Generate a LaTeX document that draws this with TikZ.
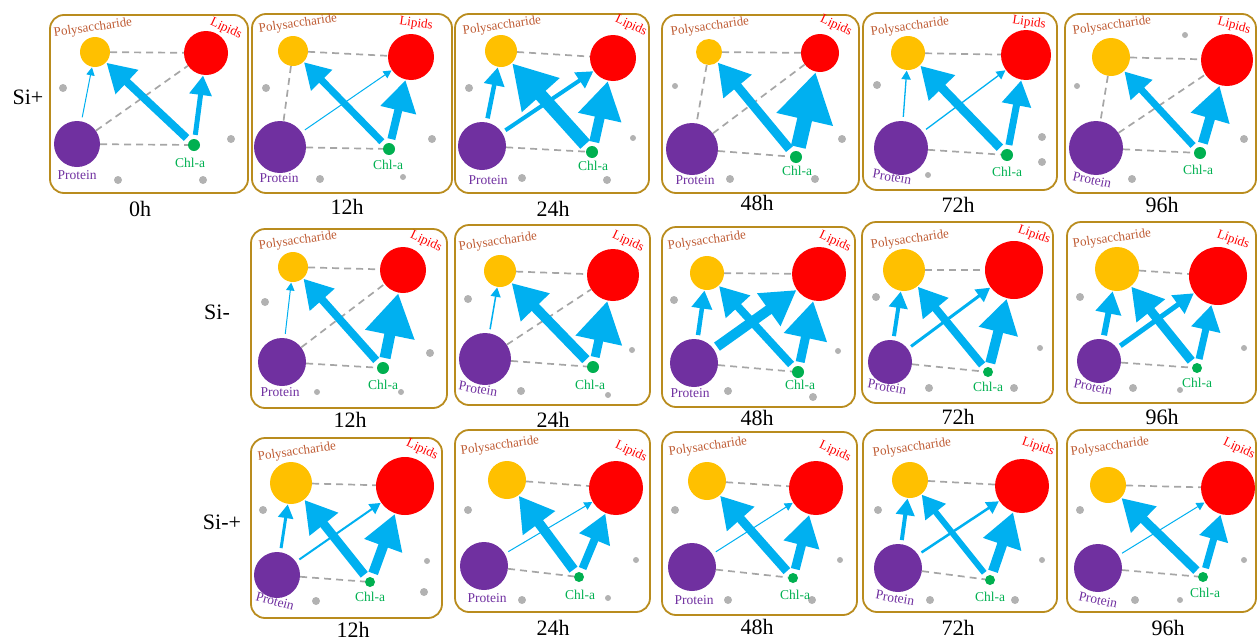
\documentclass[tikz,border=0pt]{standalone}
\usepackage{fontspec}
\setmainfont{Liberation Serif}
\usetikzlibrary{arrows.meta}
\definecolor{boxc}{RGB}{185,140,30}
\definecolor{polyc}{RGB}{255,192,0}
\definecolor{lipc}{RGB}{255,0,0}
\definecolor{protc}{RGB}{112,48,160}
\definecolor{chlc}{RGB}{0,176,80}
\definecolor{flowc}{RGB}{0,176,240}
\definecolor{dashc}{RGB}{166,166,166}
\definecolor{dotc}{RGB}{178,178,178}
\definecolor{polytc}{RGB}{190,90,50}
\tikzset{
  pbox/.style={draw=boxc, line width=1.8pt, rounded corners=14pt},
  po/.style={circle, fill=polyc, inner sep=0pt},
  li/.style={circle, fill=lipc, inner sep=0pt},
  pr/.style={circle, fill=protc, inner sep=0pt},
  ch/.style={circle, fill=chlc, inner sep=0pt},
  dsh/.style={draw=dashc, line width=1.7pt, dash pattern=on 7pt off 5pt},
  tpo/.style={text=polytc, font=\fontsize{13}{13}\selectfont, inner sep=0pt},
  tli/.style={text=lipc, font=\fontsize{13}{13}\selectfont, inner sep=0pt},
  tpr/.style={text=protc, font=\fontsize{13.5}{13.5}\selectfont, inner sep=0pt},
  tch/.style={text=chlc, font=\fontsize{13.5}{13.5}\selectfont, inner sep=0pt},
  tlab/.style={font=\fontsize{22}{22}\selectfont, inner sep=0pt},
}
\newcommand\cn[5]{\node[#2, minimum size={2*#5*1pt}] (#1) at (#3,#4) {};}
\newcommand\bx[5]{\draw[pbox] (#2,#3) rectangle (#4,#5);}
\newcommand\lb[6]{\node[#2, rotate=#6] (#1) at (#3,#4) {#5};}
\newcommand\dt[3]{\fill[dotc] (#1,#2) circle (#3pt);}
\newcommand\ds[2]{\draw[dsh] (#1) -- (#2);}
\newcommand\fl[4][1]{%
  \pgfmathsetmacro\flHL{(2.9*#4+5)*#1}%
  \pgfmathsetmacro\flHW{(3.3*#4+5)*#1}%
  \draw[flowc, line width=#4pt, -{Triangle[length=\flHL pt, width=\flHW pt]}, shorten <=4pt, shorten >=0.5pt] (#2) -- (#3);}
% panel: id, po(x,y,r), li, pr, ch
\newcommand\nds[1]{\def\pid{#1}\ndsA}
\newcommand\ndsA[6]{\cn{\pid-po}{po}{#1}{#2}{#3}\cn{\pid-li}{li}{#4}{#5}{#6}\ndsB}
\newcommand\ndsB[6]{\cn{\pid-pr}{pr}{#1}{#2}{#3}\cn{\pid-ch}{ch}{#4}{#5}{#6}}
% labels: id, tpo x y rot, tli x y rot, tpr x y rot, tch x y
\newcommand\lbs[1]{\def\lid{#1}\lbsA}
\newcommand\lbsA[6]{\lb{\lid-tpo}{tpo}{#1}{#2}{Polysaccharide}{#3}\lb{\lid-tli}{tli}{#4}{#5}{Lipids}{#6}\lbsB}
\newcommand\lbsB[5]{\lb{\lid-tpr}{tpr}{#1}{#2}{Protein}{#3}\lb{\lid-tch}{tch}{#4}{#5}{Chl-a}{0}}
\begin{document}
\begin{tikzpicture}[x=1pt,y=-1pt]
\useasboundingbox (0,0) rectangle (1258,640);
% row labels
\node[tlab] (rowA) at (28,97) {Si+};
\node[tlab] (rowB) at (217,312) {Si-};
\node[tlab] (rowC) at (222,522) {Si-+};

% ---------- Si+ 0h ----------
\bx{a-box}{50}{15}{248}{193}
\nds{a}{95}{52}{15}{206}{53}{22}{77}{144}{23}{194}{145}{6}
\dt{63}{88}{4}\dt{231}{139}{4}\dt{118}{180}{4}\dt{203}{180}{4}
\lbs{a}{93}{28}{8}{226}{29}{-25}{77}{175}{0}{190}{163}
\ds{a-po}{a-li}\ds{a-pr}{a-li}\ds{a-pr}{a-ch}
\fl{a-pr}{a-po}{1}\fl{a-ch}{a-po}{8}\fl{a-ch}{a-li}{5}
\node[tlab] (a-t) at (140,209) {0h};

% ---------- Si+ 12h ----------
\bx{b-box}{252}{14}{452}{193}
\nds{b}{293}{51}{15}{411}{57}{23}{280}{147}{26}{389}{149}{6}
\dt{266}{88}{4}\dt{432}{139}{4}\dt{320}{179}{4}\dt{403}{177}{3}
\lbs{b}{298}{24}{8}{416}{24}{-8}{279}{178}{0}{388}{165}
\ds{b-po}{b-li}\ds{b-po}{b-pr}\ds{b-pr}{b-ch}
\fl{b-pr}{b-li}{1}\fl{b-ch}{b-po}{7}\fl[1.1]{b-ch}{b-li}{8}
\node[tlab] (b-t) at (347,207) {12h};

% ---------- Si+ 24h ----------
\bx{c-box}{455}{14}{649}{193}
\nds{c}{501}{51}{16}{613}{58}{23}{482}{146}{24}{592}{152}{6}
\dt{469}{88}{4}\dt{633}{138}{3}\dt{522}{178}{4}\dt{607}{180}{4}
\lbs{c}{502}{26}{8}{631}{26}{-25}{488}{180}{0}{593}{166}
\ds{c-po}{c-li}\ds{c-pr}{c-ch}
\fl{c-pr}{c-po}{4.5}\fl{c-pr}{c-li}{4}\fl{c-ch}{c-po}{13}\fl[1.1]{c-ch}{c-li}{10}
\node[tlab] (c-t) at (553,209) {24h};

% ---------- Si+ 48h ----------
\bx{d-box}{662}{15}{859}{193}
\nds{d}{709}{52}{13}{820}{53}{19}{692}{149}{26}{796}{157}{6}
\dt{675}{86}{3}\dt{842}{139}{4}\dt{730}{179}{4}\dt{815}{179}{4}
\lbs{d}{710}{27}{8}{836}{26}{-25}{695}{180}{0}{797}{171}
\ds{d-po}{d-li}\ds{d-po}{d-pr}\ds{d-pr}{d-li}\ds{d-pr}{d-ch}
\fl{d-ch}{d-po}{9}\fl{d-ch}{d-li}{15}
\node[tlab] (d-t) at (757,203) {48h};

% ---------- Si+ 72h ----------
\bx{e-box}{863}{13}{1057}{190}
\nds{e}{908}{53}{17}{1026}{55}{25}{901}{148}{27}{1007}{155}{6}
\dt{877}{85}{4}\dt{1042}{137}{4}\dt{1042}{162}{4}\dt{928}{175}{3}
\lbs{e}{910}{27}{8}{1029}{23}{-8}{892}{177}{-10}{1007}{172}
\ds{e-po}{e-li}\ds{e-pr}{e-ch}
\fl{e-pr}{e-po}{1.3}\fl{e-pr}{e-li}{1.3}\fl{e-ch}{e-po}{9}\fl{e-ch}{e-li}{7}
\node[tlab] (e-t) at (958,205) {72h};

% ---------- Si+ 96h ----------
\bx{f-box}{1065}{14}{1256}{193}
\nds{f}{1111}{57}{19}{1227}{60}{26}{1096}{148}{27}{1200}{153}{6}
\dt{1185}{35}{3}\dt{1077}{86}{3}\dt{1244}{139}{4}\dt{1132}{179}{4}
\lbs{f}{1112}{26}{8}{1234}{26}{-15}{1092}{180}{-12}{1198}{170}
\ds{f-po}{f-li}\ds{f-po}{f-pr}\ds{f-pr}{f-li}\ds{f-pr}{f-ch}
\fl{f-ch}{f-po}{7}\fl{f-ch}{f-li}{10}
\node[tlab] (f-t) at (1162,205) {96h};

% ---------- Si- 12h ----------
\bx{g-box}{251}{229}{447}{408}
\nds{g}{293}{267}{15}{403}{270}{23}{282}{362}{24}{383}{368}{6}
\dt{265}{302}{4}\dt{430}{353}{4}\dt{317}{392}{3}\dt{401}{392}{3}
\lbs{g}{298}{241}{8}{426}{242}{-25}{280}{392}{0}{383}{385}
\ds{g-po}{g-li}\ds{g-pr}{g-li}\ds{g-pr}{g-ch}
\fl{g-pr}{g-po}{1}\fl{g-ch}{g-po}{8}\fl[1.15]{g-ch}{g-li}{11}
\node[tlab] (g-t) at (350,420) {12h};

% ---------- Si- 24h ----------
\bx{h-box}{455}{225}{650}{405}
\nds{h}{500}{271}{16}{613}{275}{26}{485}{359}{26}{593}{367}{6}
\dt{468}{299}{4}\dt{632}{350}{3}\dt{521}{391}{4}\dt{608}{395}{3}
\lbs{h}{498}{242}{8}{628}{242}{-25}{478}{389}{-10}{590}{385}
\ds{h-po}{h-li}\ds{h-pr}{h-li}\ds{h-pr}{h-ch}
\fl{h-pr}{h-po}{1.5}\fl{h-ch}{h-po}{10}\fl[1.3]{h-ch}{h-li}{9}
\node[tlab] (h-t) at (553,420) {24h};

% ---------- Si- 48h ----------
\bx{i-box}{662}{227}{855}{407}
\nds{i}{707}{273}{17}{819}{274}{27}{694}{363}{24}{798}{372}{6}
\dt{674}{300}{4}\dt{838}{351}{3}\dt{728}{391}{4}\dt{813}{397}{4}
\lbs{i}{707}{241}{8}{835}{242}{-25}{690}{393}{0}{800}{385}
\ds{i-po}{i-li}\ds{i-pr}{i-ch}
\fl{i-pr}{i-po}{4.5}\fl{i-pr}{i-li}{10}\fl{i-ch}{i-po}{8}\fl[1.2]{i-ch}{i-li}{9}
\node[tlab] (i-t) at (757,418) {48h};

% ---------- Si- 72h ----------
\bx{j-box}{862}{222}{1053}{403}
\nds{j}{904}{270}{21}{1014}{270}{29}{890}{362}{22}{988}{372}{5}
\dt{876}{297}{4}\dt{1040}{348}{3}\dt{929}{388}{4}\dt{1014}{388}{4}
\lbs{j}{910}{240}{8}{1034}{235}{-20}{887}{387}{-10}{988}{387}
\ds{j-po}{j-li}\ds{j-pr}{j-ch}
\fl{j-pr}{j-po}{4}\fl{j-pr}{j-li}{3}\fl{j-ch}{j-po}{8}\fl{j-ch}{j-li}{10}
\node[tlab] (j-t) at (958,417) {72h};

% ---------- Si- 96h ----------
\bx{k-box}{1067}{222}{1256}{403}
\nds{k}{1117}{269}{22}{1218}{276}{29}{1099}{361}{22}{1197}{368}{5}
\dt{1080}{297}{4}\dt{1244}{348}{3}\dt{1133}{388}{4}\dt{1180}{390}{3}
\lbs{k}{1112}{239}{8}{1233}{240}{-20}{1093}{387}{-12}{1197}{383}
\ds{k-po}{k-li}\ds{k-pr}{k-ch}
\fl{k-pr}{k-po}{6}\fl{k-pr}{k-li}{5}\fl{k-ch}{k-po}{9}\fl{k-ch}{k-li}{7}
\node[tlab] (k-t) at (1162,417) {96h};

% ---------- Si-+ 12h ----------
\bx{l-box}{251}{438}{442}{618}
\nds{l}{291}{483}{21}{405}{486}{29}{277}{575}{23}{370}{582}{5}
\dt{263}{510}{4}\dt{427}{561}{3}\dt{316}{601}{4}\dt{424}{592}{4}
\lbs{l}{297}{452}{8}{422}{450}{-25}{275}{601}{-15}{370}{597}
\ds{l-po}{l-li}\ds{l-pr}{l-ch}
\fl{l-pr}{l-po}{3}\fl{l-pr}{l-li}{2}\fl{l-ch}{l-po}{9}\fl{l-ch}{l-li}{10}
\node[tlab] (l-t) at (353,630) {12h};

% ---------- Si-+ 24h ----------
\bx{m-box}{455}{430}{650}{612}
\nds{m}{507}{480}{19}{616}{488}{27}{484}{566}{24}{579}{577}{5}
\dt{468}{510}{4}\dt{636}{560}{3}\dt{522}{600}{4}\dt{608}{598}{3}
\lbs{m}{500}{446}{8}{631}{452}{-25}{487}{598}{0}{580}{595}
\ds{m-po}{m-li}\ds{m-pr}{m-ch}
\fl{m-pr}{m-li}{1}\fl{m-ch}{m-po}{10}\fl{m-ch}{m-li}{8}
\node[tlab] (m-t) at (553,628) {24h};

% ---------- Si-+ 48h ----------
\bx{n-box}{662}{432}{857}{615}
\nds{n}{707}{481}{19}{816}{488}{27}{692}{567}{24}{793}{578}{5}
\dt{675}{510}{4}\dt{840}{560}{3}\dt{728}{600}{4}\dt{812}{600}{4}
\lbs{n}{708}{447}{8}{835}{452}{-25}{694}{600}{0}{795}{595}
\ds{n-po}{n-li}\ds{n-pr}{n-ch}
\fl{n-pr}{n-li}{1}\fl{n-ch}{n-po}{9}\fl{n-ch}{n-li}{9}
\node[tlab] (n-t) at (757,627) {48h};

% ---------- Si-+ 72h ----------
\bx{o-box}{863}{430}{1057}{612}
\nds{o}{910}{480}{18}{1022}{486}{27}{898}{568}{24}{990}{580}{5}
\dt{878}{510}{4}\dt{1042}{560}{3}\dt{930}{600}{4}\dt{1015}{600}{4}
\lbs{o}{912}{448}{8}{1038}{447}{-20}{895}{598}{-10}{990}{597}
\ds{o-po}{o-li}\ds{o-pr}{o-ch}
\fl{o-pr}{o-po}{4}\fl{o-pr}{o-li}{2.5}\fl{o-ch}{o-po}{6}\fl{o-ch}{o-li}{10}
\node[tlab] (o-t) at (958,628) {72h};

% ---------- Si-+ 96h ----------
\bx{p-box}{1067}{430}{1256}{612}
\nds{p}{1108}{485}{18}{1228}{488}{27}{1098}{568}{24}{1203}{577}{5}
\dt{1080}{510}{4}\dt{1244}{560}{3}\dt{1135}{600}{4}\dt{1180}{600}{3}
\lbs{p}{1110}{447}{8}{1239}{449}{-25}{1098}{600}{-12}{1205}{593}
\ds{p-po}{p-li}\ds{p-pr}{p-ch}
\fl{p-pr}{p-li}{1}\fl{p-ch}{p-po}{9}\fl{p-ch}{p-li}{7}
\node[tlab] (p-t) at (1168,628) {96h};
\end{tikzpicture}
\end{document}
